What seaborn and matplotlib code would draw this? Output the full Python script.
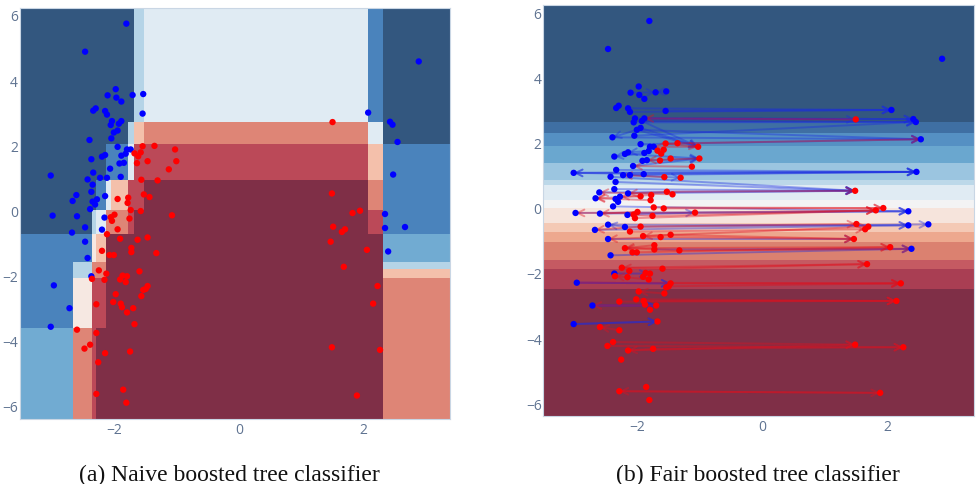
import numpy as np
import pandas as pd
import matplotlib
matplotlib.use("Agg")
import matplotlib.pyplot as plt
from matplotlib.colors import ListedColormap
import seaborn as sns

# ------------------------------
# Data
# ------------------------------
blue_x = [-1.80, -2.46, -1.97, -2.10, -1.96, -1.88, -1.70, -1.53, -1.54, -2.29, -2.33, -2.14, -2.11, -2.03, -1.88,
          -1.92, -2.05, -1.94, -2.00, -2.04, -2.39, -1.94, -1.79, -1.73, -1.81, -1.88, -2.14, -2.19, -2.36, -1.84,
          -1.91, -2.06, -3.01, -2.33, -2.22, -2.11, -1.89, -2.42, -2.34, -2.36, -2.60, -2.14, -2.27, -2.66, -2.34,
          -2.30, -2.38, -2.98, -2.59, -2.15, -2.46, -2.19, -2.67, -2.46, -2.42, -2.36, -2.96, -2.71, -3.01,
          2.88, 2.07, 2.42, 2.46, 2.54, 2.47, 2.34, 2.34, 2.66, 2.39]
blue_y = [5.73, 4.87, 3.72, 3.53, 3.46, 3.34, 3.54, 3.57, 2.97, 3.13, 3.06, 3.05, 2.94, 2.74, 2.74,
          2.66, 2.62, 2.45, 2.39, 2.21, 2.16, 1.95, 1.87, 1.87, 1.74, 1.68, 1.70, 1.65, 1.57, 1.46,
          1.44, 1.28, 1.07, 1.16, 1.00, 1.00, 1.03, 0.95, 0.79, 0.57, 0.47, 0.44, 0.34, 0.29, 0.27,
          0.18, 0.04, -0.16, -0.18, -0.22, -0.52, -0.59, -0.68, -0.96, -1.46, -2.02, -2.30, -3.00, -3.57,
          4.57, 3.00, 2.72, 2.63, 2.10, 1.10, -0.11, -0.54, -0.51, -1.26]
red_x = [-1.54, -1.35, -1.02, -1.67, -1.57, -1.61, -1.00, -1.46, -1.63, -1.12, -1.56, -1.30, -1.52, -1.43, -1.94,
         -1.77, -1.78, -1.73, -1.57, -1.99, -1.07, -2.05, -1.75, -2.03, -1.94, -2.11, -1.90, -1.62, -1.46, -1.72,
         -1.72, -2.19, -1.32, -2.07, -2.00, -1.59, -2.24, -2.12, -1.86, -1.79, -1.90, -2.35, -2.15, -1.81, -1.46,
         -1.49, -1.53, -1.97, -1.56, -2.01, -1.89, -1.87, -1.69, -2.28, -1.79, -1.67, -2.59, -2.28, -2.38, -2.47,
         -1.74, -2.14, -2.25, -1.85, -2.28, -1.80,
         1.50, 1.49, 1.94, 1.82, 1.51, 1.70, 1.65, 1.47, 2.05, 1.68, 2.22, 2.15, 1.49, 2.26, 1.89]
red_y = [1.97, 1.98, 1.87, 1.75, 1.78, 1.66, 1.51, 1.51, 1.45, 1.26, 0.94, 0.92, 0.49, 0.41, 0.35,
         0.39, 0.23, 0.01, -0.02, -0.13, -0.15, -0.21, -0.25, -0.32, -0.58, -0.73, -0.87, -0.90, -0.83, -1.15,
         -1.28, -1.24, -1.31, -1.37, -1.37, -1.87, -1.84, -1.94, -2.00, -2.02, -2.12, -2.10, -2.13, -2.20, -2.32,
         -2.41, -2.44, -2.57, -2.63, -2.81, -2.86, -2.97, -3.00, -2.88, -3.13, -3.49, -3.66, -3.76, -4.12, -4.24,
         -4.33, -4.38, -4.66, -5.50, -5.63, -5.90,
         2.71, 0.52, -0.01, -0.08, -0.50, -0.58, -0.66, -0.96, -1.21, -1.73, -2.32, -2.86, -4.20, -4.28, -5.68]

# arrows as (x from, y from, x to, y to)
blue_arrows = [(-2.14, 3.05, 2.07, 3.00), (-2.11, 2.94, 2.07, 3.00), (-1.54, 2.97, 2.07, 3.00),
               (-2.03, 2.74, 2.42, 2.72), (-1.88, 2.74, 2.42, 2.72), (-1.92, 2.66, 2.46, 2.63),
               (-2.05, 2.62, 2.46, 2.63), (-1.88, 2.74, 1.50, 2.71), (-2.04, 2.21, 2.46, 2.63),
               (-1.94, 1.95, 2.54, 2.10), (-2.39, 2.16, 2.54, 2.10), (-2.00, 2.39, 2.54, 2.10),
               (-3.01, 1.07, 2.47, 1.10), (-2.33, 1.16, 2.47, 1.10), (-2.22, 1.00, 2.47, 1.10),
               (-1.89, 1.03, 2.47, 1.10), (2.47, 1.10, -3.01, 1.07),
               (-2.36, 0.57, 1.49, 0.52), (-2.14, 0.44, 1.49, 0.52), (-2.60, 0.47, 1.49, 0.52),
               (-2.34, 0.79, 1.49, 0.52), (-2.42, 0.95, 1.49, 0.52),
               (-2.38, 0.04, 2.34, -0.11), (-2.98, -0.16, 2.34, -0.11), (-2.59, -0.18, 2.34, -0.11),
               (-2.46, -0.52, 2.34, -0.54), (-2.19, -0.59, 2.66, -0.51), (-2.67, -0.68, 2.34, -0.54),
               (-2.46, -0.96, 1.47, -0.96), (-2.42, -1.46, 2.39, -1.26), (-1.72, -1.28, 2.39, -1.26),
               (-2.10, 3.53, -1.70, 3.54), (-1.53, 3.57, -1.70, 3.54), (-2.00, 2.39, -2.39, 2.16),
               (-1.88, 1.68, -2.36, 1.57), (-1.81, 1.74, -2.14, 1.70), (-1.91, 1.44, -1.00, 1.51),
               (-2.11, 1.00, -1.30, 0.92), (-1.89, 1.03, -3.01, 1.07), (-2.14, -0.22, -1.07, -0.15),
               (-2.19, -0.59, -2.46, -0.52), (-2.36, -2.02, -1.81, -2.02), (-2.96, -2.30, -1.46, -2.32),
               (-2.71, -3.00, -1.69, -3.00), (-3.01, -3.57, -1.67, -3.49),
               (-1.92, 2.66, -1.02, 1.87), (-2.00, 2.39, -1.02, 1.87), (-1.94, 2.45, -1.02, 1.87),
               (-2.19, 1.65, -1.00, 1.51), (-2.06, 1.28, -1.00, 1.51), (-2.71, -3.00, -1.69, -3.00),
               (-2.96, -2.30, -1.46, -2.32), (-3.01, -3.57, -1.67, -3.49)]
red_arrows = [(1.50, 2.71, -1.88, 2.74), (-1.54, 1.97, 2.54, 2.10), (-1.52, 0.49, 1.49, 0.52),
              (-1.73, 0.01, 1.94, -0.01), (-1.57, -0.02, 1.94, -0.01), (-1.07, -0.15, 1.82, -0.08),
              (-1.75, -0.25, 1.82, -0.08), (-2.03, -0.32, 1.82, -0.08), (-1.94, -0.58, 1.51, -0.50),
              (-2.11, -0.73, 1.65, -0.66), (-1.90, -0.87, 1.70, -0.58), (-1.62, -0.90, 1.47, -0.96),
              (-1.46, -0.83, 1.47, -0.96), (-2.19, -1.24, 2.05, -1.21), (-1.32, -1.31, 2.39, -1.26),
              (-2.07, -1.37, 2.05, -1.21), (-1.59, -1.87, 1.68, -1.73), (-2.24, -1.84, 1.68, -1.73),
              (-1.46, -2.32, 2.22, -2.32), (-2.96, -2.30, 2.22, -2.32), (-1.49, -2.41, 2.22, -2.32),
              (-2.28, -2.88, 2.15, -2.86), (-2.01, -2.81, 2.15, -2.86), (-1.89, -2.86, 2.15, -2.86),
              (-2.47, -4.24, 2.26, -4.28), (-2.38, -4.12, 1.49, -4.20), (-1.74, -4.33, 2.26, -4.28),
              (-2.14, -4.38, 1.49, -4.20), (-2.28, -5.63, 1.89, -5.68), (1.89, -5.68, -2.28, -5.63),
              (-1.02, 1.87, -1.73, 1.87), (-1.54, 1.97, -1.02, 1.87), (-1.00, 1.51, -1.84, 1.46),
              (-1.12, 1.26, -2.06, 1.28), (-1.56, 0.94, -2.22, 1.00), (-1.43, 0.41, -2.60, 0.47),
              (-1.52, 0.49, -2.14, 0.44), (-1.94, 0.35, -2.66, 0.29), (-1.78, 0.23, -2.66, 0.29),
              (-1.77, 0.39, -2.27, 0.34), (-1.07, -0.15, -2.98, -0.16), (-1.99, -0.13, -2.59, -0.18),
              (-1.75, -0.25, -2.15, -0.22), (-1.94, -0.58, -2.67, -0.68), (-1.46, -0.83, -1.90, -0.87),
              (-1.62, -0.90, -2.46, -0.96), (-1.72, -1.15, -2.19, -1.24), (-1.32, -1.31, -2.19, -1.24),
              (-1.59, -1.87, -2.24, -1.84), (-1.81, -2.20, -2.35, -2.10), (-1.56, -2.63, -1.97, -2.57),
              (-1.69, -3.00, -2.71, -3.00), (-2.28, -3.76, -2.59, -3.66), (-1.74, -4.33, -2.14, -4.38)]

# naive tree: cell levels on an uneven grid, rows from the top down
naive_x_edges = [-3.51, -2.66, -2.35, -2.28, -2.13, -2.04, -1.78, -1.68, -1.52, 2.06, 2.31, 3.38]
naive_y_edges = [6.21, 2.70, 2.04, 0.94, 0.02, -0.72, -1.58, -1.79, -2.07, -3.61, -6.40]
naive_levels = [[0, 0, 0, 0, 0, 0, 0, 3, 4, 1, 0],
                [0, 0, 0, 0, 0, 0, 3, 6, 7, 4, 0],
                [0, 0, 0, 0, 1, 1, 4, 8, 8, 6, 1],
                [0, 0, 0, 1, 4, 6, 8, 8, 9, 7, 1],
                [0, 0, 3, 4, 7, 7, 8, 9, 9, 8, 1],
                [1, 1, 5, 6, 9, 9, 9, 9, 9, 9, 2],
                [1, 3, 7, 7, 9, 9, 9, 9, 9, 9, 3],
                [1, 3, 7, 7, 9, 9, 9, 9, 9, 9, 6],
                [1, 5, 8, 8, 9, 9, 9, 9, 9, 9, 7],
                [2, 7, 8, 9, 9, 9, 9, 9, 9, 9, 7]]
naive_colors = ["#33577f", "#4a83bc", "#71abd2", "#b5d4e7", "#e0ebf3",
                "#f6e8e2", "#f4c0ab", "#de8576", "#bb4958", "#7f2f47"]

# fair tree: horizontal bands only
fair_x_edges = [-3.50, 3.39]
fair_y_edges = [6.22, 2.64, 2.29, 1.90, 1.365, 0.865, 0.69, 0.24, 0.006, -0.475,
                -0.73, -1.05, -1.60, -1.865, -2.50, -6.39]
fair_colors = ["#33577f", "#3f6fa3", "#5590c3", "#6aa7cf", "#9bc5e0", "#bcd8e9", "#e0ebf3",
               "#f3f3f4", "#f6e4dc", "#f4c9b5", "#eda88e", "#db8170", "#c55a62", "#a93e53", "#7f2f47"]

ticks = [-6, -4, -2, 0, 2, 4, 6]
x_ticks = [-2, 0, 2]
caption_a = "(a) Naive boosted tree classifier"
caption_b = "(b) Fair boosted tree classifier"

# ------------------------------
# Setup
# ------------------------------
sns.set_theme(style="white")
plt.rcParams["font.family"] = ["Open Sans", "DejaVu Sans"]

W, H = 976, 485
fig = plt.figure(figsize=(W / 100, H / 100), dpi=100, facecolor="white")
ax_a = fig.add_axes([19.5 / W, 1 - 420 / H, 430.5 / W, 411 / H])
ax_b = fig.add_axes([543 / W, 1 - 417 / H, 431 / W, 411 / H])

points = pd.concat([
    pd.DataFrame({"x": blue_x, "y": blue_y, "group": "blue"}),
    pd.DataFrame({"x": red_x, "y": red_y, "group": "red"}),
])


def draw_points(ax):
    sns.scatterplot(data=points, x="x", y="y", hue="group", palette={"blue": "#0000ff", "red": "#ff0000"},
                    s=21, linewidth=0, legend=False, ax=ax, zorder=5)


def finish_axes(ax, xlim, ylim):
    ax.set_xlim(xlim)
    ax.set_ylim(ylim)
    ax.set_xticks(x_ticks)
    ax.set_yticks(ticks)
    ax.set_xticklabels([f"\u2212{abs(t)}" if t < 0 else str(t) for t in x_ticks])
    ax.set_yticklabels([f"\u2212{abs(t)}" if t < 0 else str(t) for t in ticks])
    ax.set_xlabel("")
    ax.set_ylabel("")
    ax.tick_params(axis="both", length=0, labelsize=10, labelcolor="#5f7391")
    ax.tick_params(axis="x", pad=2)
    ax.tick_params(axis="y", pad=1)
    ax.grid(True, color="white", alpha=0.05, linewidth=0.8)
    for spine in ax.spines.values():
        spine.set_color("#c9d6e4")
        spine.set_linewidth(0.8)


# ------------------------------
# (a) Naive
# ------------------------------
ax_a.pcolormesh(naive_x_edges, naive_y_edges, np.array(naive_levels), cmap=ListedColormap(naive_colors),
                vmin=-0.5, vmax=9.5, zorder=1)
draw_points(ax_a)
finish_axes(ax_a, (naive_x_edges[0], naive_x_edges[-1]), (naive_y_edges[-1], naive_y_edges[0]))

# ------------------------------
# (b) Fair
# ------------------------------
ax_b.pcolormesh(fair_x_edges, fair_y_edges, np.arange(len(fair_colors)).reshape(-1, 1),
                cmap=ListedColormap(fair_colors), vmin=-0.5, vmax=len(fair_colors) - 0.5, zorder=1)

for arrows, color in [(blue_arrows, "#1a2be0"), (red_arrows, "#e0101e")]:
    for x0, y0, x1, y1 in arrows:
        ax_b.annotate("", xy=(x1, y1), xytext=(x0, y0), zorder=3,
                      arrowprops=dict(arrowstyle="->", color=color, alpha=0.4, lw=1.4,
                                      mutation_scale=12, shrinkA=0, shrinkB=0))

draw_points(ax_b)
finish_axes(ax_b, (fair_x_edges[0], fair_x_edges[-1]), (fair_y_edges[-1], fair_y_edges[0]))

# captions
fig.text(229 / W, 1 - 475 / H, caption_a, family="Liberation Serif", fontsize=17, color="#111111", ha="center", va="center")
fig.text(757.5 / W, 1 - 475 / H, caption_b, family="Liberation Serif", fontsize=17, color="#111111", ha="center", va="center")

plt.savefig("out.png", dpi=100)
plt.close()
